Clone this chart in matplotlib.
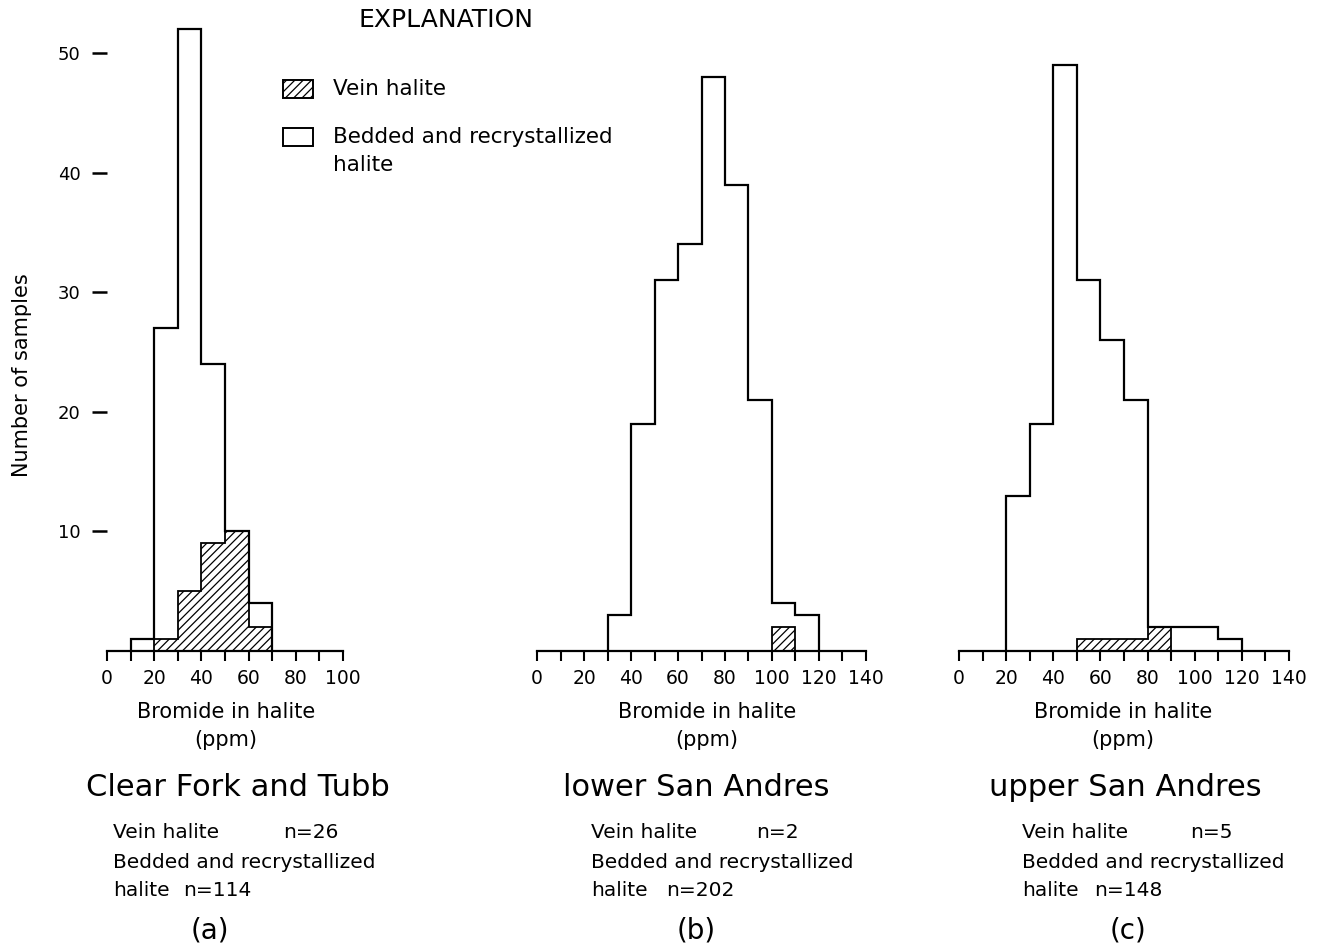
"""Bromide in halite histograms, three stratigraphic units."""
import matplotlib
matplotlib.use("Agg")
import matplotlib.pyplot as plt
import numpy as np
from matplotlib.patches import Rectangle

plt.rcParams["font.family"] = ["DejaVu Sans"]
plt.rcParams["hatch.linewidth"] = 0.9

W, H = 1318, 950

# outline of the histogram (as drawn) and vein halite (hatched), 10 ppm bins
edges_a = [10, 20, 30, 40, 50, 60, 70]
outline_a = [1, 27, 52, 24, 10, 4]
vein_edges_a = [20, 30, 40, 50, 60, 70]
vein_a = [1, 5, 9, 10, 2]

edges_b = [30, 40, 50, 60, 70, 80, 90, 100, 110, 120]
outline_b = [3, 19, 31, 34, 48, 39, 21, 4, 3]
vein_edges_b = [100, 110]
vein_b = [2]

edges_c = [20, 30, 40, 50, 60, 70, 80, 90, 100, 110, 120]
outline_c = [13, 19, 49, 31, 26, 21, 2, 2, 2, 1]
vein_edges_c = [50, 60, 70, 80, 90]
vein_c = [1, 1, 1, 2]

titles = ["Clear Fork and Tubb", "lower San Andres", "upper San Andres"]
vein_n = ["n=26", "n=2", "n=5"]
bedded_n = ["n=114", "n=202", "n=148"]
letters = ["(a)", "(b)", "(c)"]
xmax = [100, 140, 140]


def fx(px):
    return px / W


def fy(py):
    return 1 - py / H


fig = plt.figure(figsize=(W / 100, H / 100), dpi=100)

y0_px = 651
px_per_unit = 11.96
ytop = 54
ax_h = ytop * px_per_unit / H
panels = [(107, 343), (537, 866), (959, 1289)]
data = [
    (edges_a, outline_a, vein_edges_a, vein_a),
    (edges_b, outline_b, vein_edges_b, vein_b),
    (edges_c, outline_c, vein_edges_c, vein_c),
]

axes = []
for i, ((xl, xr), (e, o, ve, v)) in enumerate(zip(panels, data)):
    ax = fig.add_axes([fx(xl), 1 - y0_px / H, (xr - xl) / W, ax_h])
    ax.stairs(v, ve, baseline=0, fill=True, facecolor="white", edgecolor="black",
              hatch="////", lw=1.3, zorder=2)
    ax.stairs(o, e, baseline=0, fill=False, color="black", lw=1.6, zorder=3)
    ax.set_xlim(0, xmax[i])
    ax.set_ylim(0, ytop)
    for s in ["top", "right", "left"]:
        ax.spines[s].set_visible(False)
    ax.spines["bottom"].set_linewidth(1.6)
    ax.spines["bottom"].set_zorder(4)
    ax.set_xticks(np.arange(0, xmax[i] + 1, 10))
    ax.set_xticklabels([str(t) if t % 20 == 0 else "" for t in range(0, xmax[i] + 1, 10)])
    ax.tick_params(axis="x", direction="out", length=7, width=1.5, labelsize=13.5, pad=6)
    if i == 0:
        ax.set_yticks([10, 20, 30, 40, 50])
        ax.tick_params(axis="y", direction="out", length=11, width=1.8, labelsize=13, pad=8)
    else:
        ax.set_yticks([])
    ax.patch.set_alpha(0)
    axes.append(ax)

fig.text(fx(22), fy(375), "Number of samples", rotation=90, ha="center", va="center", fontsize=15)

# axis labels and captions
xlab_x = [226, 707, 1123]
title_x = [238, 696, 1125]
sub_x = [113, 591, 1022]
vn_x = [283, 756, 1190]
bn_x = [183, 666, 1094]
let_x = [210, 696, 1128]
for i in range(3):
    fig.text(fx(xlab_x[i]), fy(712), "Bromide in halite", ha="center", va="center", fontsize=15)
    fig.text(fx(xlab_x[i]), fy(740), "(ppm)", ha="center", va="center", fontsize=15)
    fig.text(fx(title_x[i]), fy(787), titles[i], ha="center", va="center", fontsize=22)
    fig.text(fx(sub_x[i]), fy(833), "Vein halite", ha="left", va="center", fontsize=14.5)
    fig.text(fx(vn_x[i]), fy(833), vein_n[i], ha="left", va="center", fontsize=14.5)
    fig.text(fx(sub_x[i]), fy(863), "Bedded and recrystallized", ha="left", va="center", fontsize=14.5)
    fig.text(fx(sub_x[i]), fy(891), "halite", ha="left", va="center", fontsize=14.5)
    fig.text(fx(bn_x[i]), fy(891), bedded_n[i], ha="left", va="center", fontsize=14.5)
    fig.text(fx(let_x[i]), fy(930), letters[i], ha="center", va="center", fontsize=20)

# explanation block
fig.text(fx(446), fy(20), "EXPLANATION", ha="center", va="center", fontsize=18)
fig.add_artist(Rectangle((fx(283), fy(98)), fx(30), 18 / H, transform=fig.transFigure,
                         facecolor="white", edgecolor="black", hatch="////", lw=1.4))
fig.add_artist(Rectangle((fx(283), fy(146)), fx(30), 18 / H, transform=fig.transFigure,
                         facecolor="white", edgecolor="black", lw=1.4))
fig.text(fx(333), fy(89), "Vein halite", ha="left", va="center", fontsize=15.5)
fig.text(fx(333), fy(137), "Bedded and recrystallized", ha="left", va="center", fontsize=15.5)
fig.text(fx(333), fy(165), "halite", ha="left", va="center", fontsize=15.5)

fig.savefig("out.png", dpi=100)
